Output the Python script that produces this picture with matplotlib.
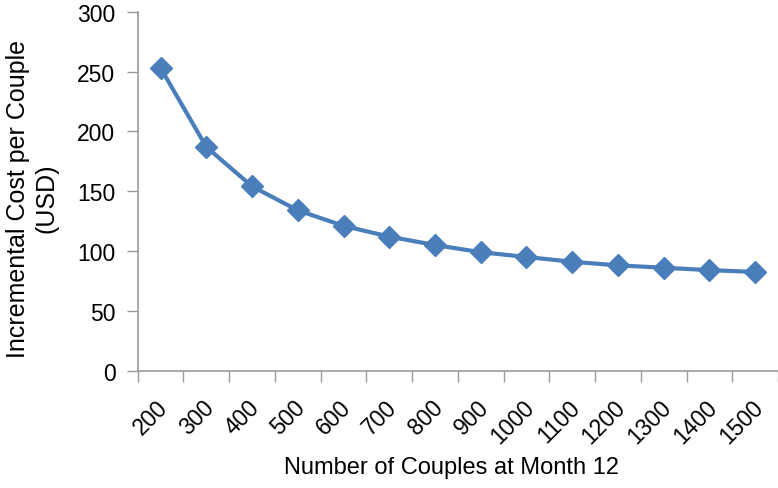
import matplotlib
matplotlib.use("Agg")
import matplotlib.pyplot as plt
import matplotlib.transforms as mtransforms
import numpy as np

categories = ["200", "300", "400", "500", "600", "700", "800", "900",
              "1000", "1100", "1200", "1300", "1400", "1500"]
cost = [253, 187, 154, 134, 121, 112, 105, 99, 95, 91, 88, 86, 84, 82.5]

plt.rcParams['font.family'] = ['Liberation Sans', 'DejaVu Sans']

fig = plt.figure(figsize=(7.78, 4.89), dpi=100)
ax = fig.add_axes([0.177, 0.240, 0.823, 0.734])

x = np.arange(len(categories))
ax.plot(x, cost, color='#4A7EBB', linewidth=3.0, marker='D', markersize=11,
        markerfacecolor='#4A7EBB', markeredgecolor='#4A7EBB')

ax.set_xlim(-0.5, len(categories) - 0.5)
ax.set_ylim(0, 300)
ax.set_yticks(np.arange(0, 301, 50))
ax.set_xticks(x)
ax.set_xticklabels(categories, rotation=45, ha='right', rotation_mode='anchor')
ax.set_xticks(np.arange(-0.5, len(categories) - 0.4, 1), minor=True)
ax.tick_params(axis='x', which='major', length=0, pad=18, labelsize=16.5)
ax.tick_params(axis='x', which='minor', length=8, width=1, color='#999999')
ax.tick_params(axis='y', length=8, width=1, color='#999999', labelsize=16.5, pad=8)

offset = mtransforms.ScaledTranslation(-0.04, 0, fig.dpi_scale_trans)
for lbl in ax.get_xticklabels():
    lbl.set_transform(lbl.get_transform() + offset)

for s in ['top', 'right']:
    ax.spines[s].set_visible(False)
for s in ['left', 'bottom']:
    ax.spines[s].set_color('#999999')
    ax.spines[s].set_linewidth(1.2)

ax.set_ylabel("Incremental Cost per Couple\n(USD)", fontsize=18, linespacing=1.25)
ax.yaxis.set_label_coords(-0.123, 0.482)
ax.set_xlabel("Number of Couples at Month 12", fontsize=17)
ax.xaxis.set_label_coords(0.490, -0.238)

fig.savefig("out.png", dpi=100)
